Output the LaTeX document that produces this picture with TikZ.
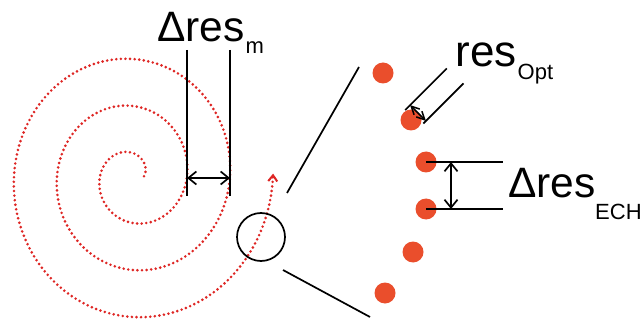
\documentclass[tikz,border=0pt]{standalone}
\usepackage{fontspec}
\setmainfont{Liberation Sans}
\usetikzlibrary{arrows.meta}
\definecolor{spiralred}{RGB}{222,38,36}
\definecolor{dotred}{RGB}{234,78,44}
\begin{document}
\begin{tikzpicture}[x=1pt,y=-1pt,
  blackline/.style={line width=1.7pt, black},
  spiral/.style={spiralred, line width=2.9pt, line cap=round, dash pattern=on 0pt off 4.6pt},
  spot/.style={circle, fill=dotred, minimum size=21pt, inner sep=0pt},
  dimarrow/.style={blackline, {Straight Barb[length=8pt,width=13pt]}-{Straight Barb[length=8pt,width=13pt]}},
  smallarrow/.style={line width=1.5pt, black, {Straight Barb[length=8pt,width=8pt]}-{Straight Barb[length=8pt,width=8pt]}},
  bigtext/.style={anchor=base west, inner sep=0pt, font=\fontsize{42.5}{42.5}\selectfont},
  opttext/.style={anchor=base west, inner sep=0pt, font=\fontsize{44}{44}\selectfont},
  subtext/.style={anchor=base west, inner sep=0pt, font=\fontsize{22}{22}\selectfont}]
\useasboundingbox (0,0) rectangle (644,320);

% spiral
\draw[spiral, -{Straight Barb[length=6pt,width=9pt,line width=2pt]}]
  plot[domain=0:1081, samples=541, variable=\t]
  ({132.75+(11.25+(\t/180)*21.5)*cos(\t)}, {176.25-(11.5+(\t/180)*23.5)*sin(\t)});

% magnifier circle and its rays
\node[draw, circle, minimum size=48pt, inner sep=0pt, line width=1.7pt] (zoomc) at (261,237) {};
\coordinate (ua) at (287,193);
\coordinate (ub) at (359,67);
\coordinate (la) at (283,270);
\coordinate (lb) at (370,317);
\draw[blackline] (ua) -- (ub);
\draw[blackline] (la) -- (lb);

% delta res_m
\coordinate (m1t) at (187,50);
\coordinate (m1b) at (187,196);
\coordinate (m2t) at (230,50);
\coordinate (m2b) at (230,196);
\coordinate (ma) at (187,178);
\coordinate (mb) at (230,178);
\draw[blackline] (m1t) -- (m1b);
\draw[blackline] (m2t) -- (m2b);
\draw[dimarrow] (ma) -- (mb);
\node[bigtext] (tm) at (157,42) {Δres};
\node[subtext] (tmsub) at (245.5,54) {m};

% spots
\node[spot] (d1) at (383,73) {};
\node[spot] (d2) at (411,120) {};
\node[spot] (d3) at (426,162) {};
\node[spot] (d4) at (426,209) {};
\node[spot] (d5) at (413,252) {};
\node[spot] (d6) at (385,293) {};

% res_Opt
\coordinate (o1a) at (405.1,110.1);
\coordinate (o1b) at (446.8,68.4);
\coordinate (o2a) at (423.3,123.5);
\coordinate (o2b) at (463.4,83.4);
\coordinate (oa) at (410.1,105.1);
\coordinate (ob) at (425.9,120.9);
\draw[blackline] (o1a) -- (o1b);
\draw[blackline] (o2a) -- (o2b);
\draw[smallarrow] (oa) -- (ob);
\node[opttext] (topt) at (455.5,67) {res};
\node[subtext] (toptsub) at (517.5,80) {Opt};

% delta res_ECH
\coordinate (e1) at (503,162);
\coordinate (e2) at (503,209);
\coordinate (ea) at (451,162);
\coordinate (eb) at (451,209);
\draw[blackline] (d3.center) -- (e1);
\draw[blackline] (d4.center) -- (e2);
\draw[dimarrow] (ea) -- (eb);
\node[bigtext] (tech) at (508,197) {Δres};
\node[subtext] (techsub) at (595,219) {ECH};
\end{tikzpicture}
\end{document}
